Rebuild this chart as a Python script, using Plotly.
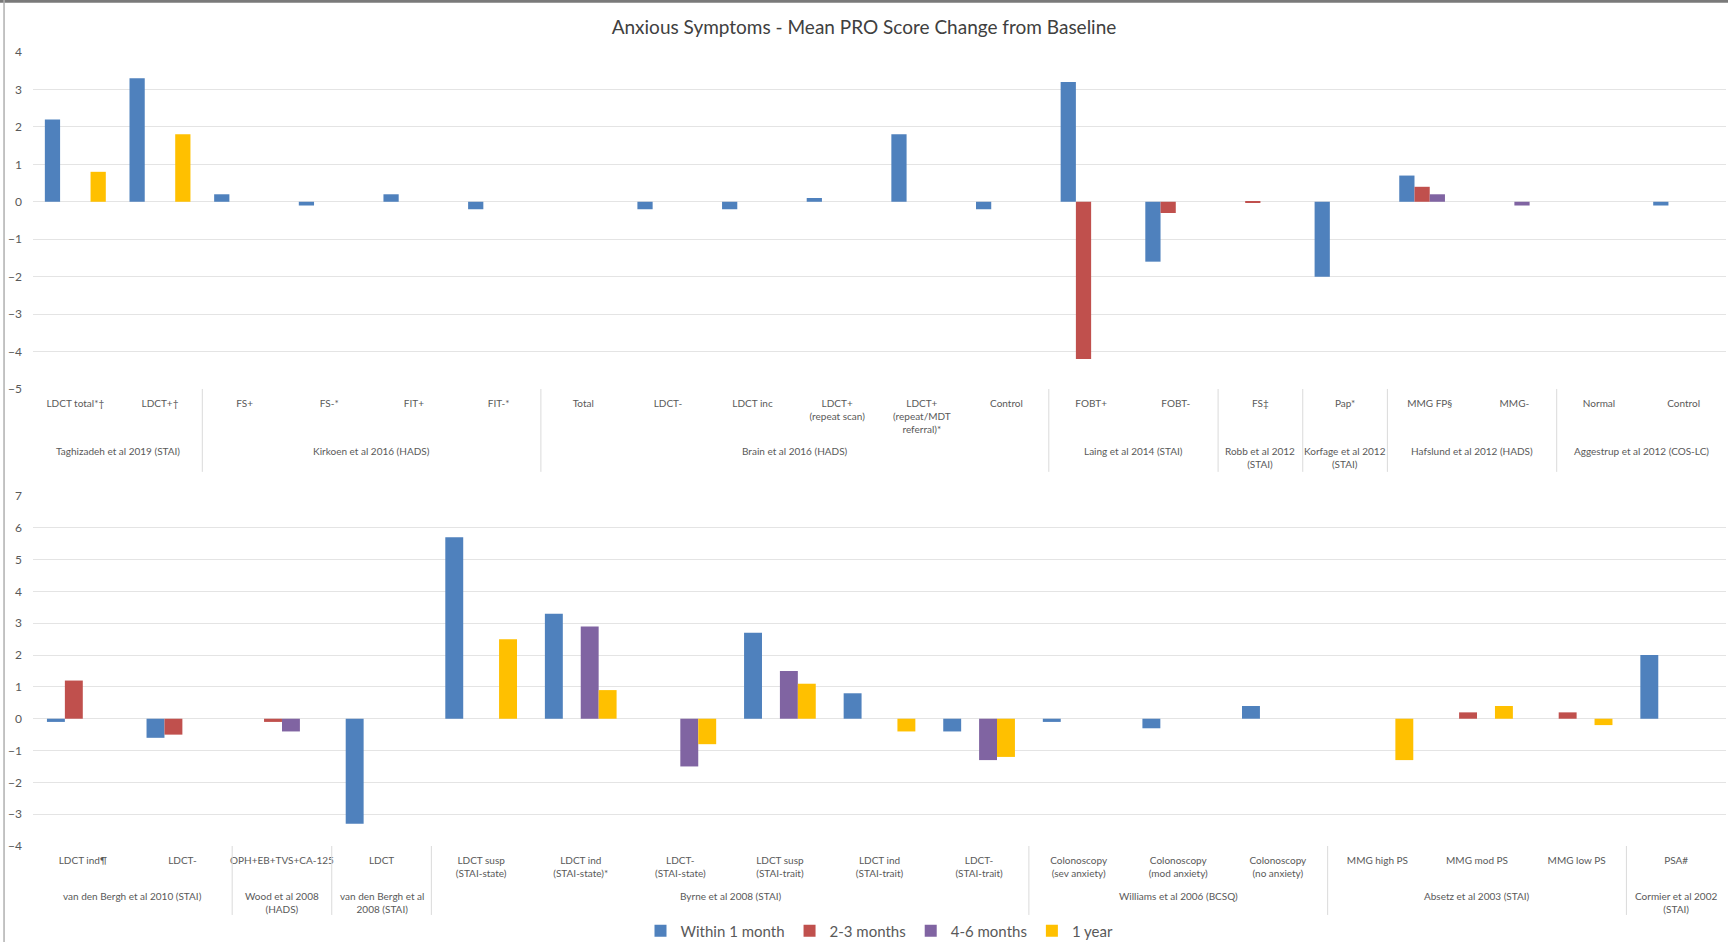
import plotly.graph_objects as go

# ---------------- data ----------------
series_names = ["Within 1 month", "2-3 months", "4-6 months", "1 year"]
series_colors = ["#4F81BD", "#C0504D", "#8064A2", "#FFC000"]

top_groups = (["Taghizadeh et al 2019 (STAI)"] * 2
              + ["Kirkoen et al 2016 (HADS)"] * 4
              + ["Brain et al 2016 (HADS)"] * 6
              + ["Laing et al 2014 (STAI)"] * 2
              + ["Robb et al 2012<br>(STAI)"]
              + ["Korfage et al 2012<br>(STAI)"]
              + ["Hafslund et al 2012 (HADS)"] * 2
              + ["Aggestrup et al 2012 (COS-LC)"] * 2)
top_cats = ["LDCT total*†", "LDCT+†", "FS+", "FS-*", "FIT+", "FIT-*",
            "Total", "LDCT-", "LDCT inc", "LDCT+<br>(repeat scan)",
            "LDCT+<br>(repeat/MDT<br>referral)*", "Control",
            "FOBT+", "FOBT-", "FS‡", "Pap*", "MMG FP§", "MMG-",
            "Normal", "Control"]
top_within1m = [2.2, 3.3, 0.2, -0.1, 0.2, -0.2, None, -0.2, -0.2, 0.1, 1.8, -0.2,
                3.2, -1.6, None, -2.0, 0.7, None, None, -0.1]
top_2to3m = [None, None, None, None, None, None, None, None, None, None, None, None,
             -4.2, -0.3, -0.03, None, 0.4, None, None, None]
top_4to6m = [None, None, None, None, None, None, None, None, None, None, None, None,
             None, None, None, None, 0.2, -0.1, None, None]
top_1year = [0.8, 1.8, None, None, None, None, None, None, None, None, None, None,
             None, None, None, None, None, None, None, None]

bot_groups = (["van den Bergh et al 2010 (STAI)"] * 2
              + ["Wood et al 2008<br>(HADS)"]
              + ["van den Bergh et al<br>2008 (STAI)"]
              + ["Byrne et al 2008 (STAI)"] * 6
              + ["Williams et al 2006 (BCSQ)"] * 3
              + ["Absetz et al 2003 (STAI)"] * 3
              + ["Cormier et al 2002<br>(STAI)"])
bot_cats = ["LDCT ind¶", "LDCT-", "OPH+EB+TVS+CA-125", "LDCT",
            "LDCT susp<br>(STAI-state)", "LDCT ind<br>(STAI-state)*", "LDCT-<br>(STAI-state)",
            "LDCT susp<br>(STAI-trait)", "LDCT ind<br>(STAI-trait)", "LDCT-<br>(STAI-trait)",
            "Colonoscopy<br>(sev anxiety)", "Colonoscopy<br>(mod anxiety)", "Colonoscopy<br>(no anxiety)",
            "MMG high PS", "MMG mod PS", "MMG low PS", "PSA#"]
bot_within1m = [-0.1, -0.6, None, -3.3, 5.7, 3.3, None, 2.7, 0.8, -0.4,
                -0.1, -0.3, 0.4, None, None, None, 2.0]
bot_2to3m = [1.2, -0.5, -0.1, None, None, None, None, None, None, None,
             None, None, None, None, 0.2, 0.2, None]
bot_4to6m = [None, None, -0.4, None, None, 2.9, -1.5, 1.5, None, -1.3,
             None, None, None, None, None, None, None]
bot_1year = [None, None, None, None, 2.5, 0.9, -0.8, 1.1, -0.4, -1.2,
             None, None, None, -1.3, 0.4, -0.2, None]

top_ticks = list(range(-5, 5))
bot_ticks = list(range(-4, 8))

# ---------------- helpers ----------------
FONT = "Lato, 'Open Sans', sans-serif"
GRID = "#e4e4e4"
TICKC = "#595959"
DIV = "#dadada"


def group_spans(groups):
    """Return (label, first_index, last_index) for consecutive runs."""
    spans = []
    start = 0
    for i in range(1, len(groups) + 1):
        if i == len(groups) or groups[i] != groups[start]:
            spans.append((groups[start], start, i - 1))
            start = i
    return spans


fig = go.Figure()

top_x = list(range(len(top_cats)))
bot_x = list(range(len(bot_cats)))
top_series = [top_within1m, top_2to3m, top_4to6m, top_1year]
bot_series = [bot_within1m, bot_2to3m, bot_4to6m, bot_1year]

for name, color, vals in zip(series_names, series_colors, top_series):
    fig.add_trace(go.Bar(x=top_x, y=vals, name=name,
                         marker=dict(color=color, line=dict(width=0)),
                         legendgroup=name, showlegend=True,
                         xaxis="x", yaxis="y"))
for name, color, vals in zip(series_names, series_colors, bot_series):
    fig.add_trace(go.Bar(x=bot_x, y=vals, name=name,
                         marker=dict(color=color, line=dict(width=0)),
                         legendgroup=name, showlegend=False,
                         xaxis="x2", yaxis="y2"))

xcommon = dict(type="linear", showgrid=False, zeroline=False, showline=False,
               ticks="", tickangle=0,
               tickfont=dict(family=FONT, size=10, color=TICKC), automargin=False)
ycommon = dict(showgrid=True, gridcolor=GRID, gridwidth=1, zeroline=True,
               zerolinecolor=GRID, zerolinewidth=1, showline=False, ticks="",
               dtick=1, tickfont=dict(family=FONT, size=12, color=TICKC),
               ticklabelstandoff=10, automargin=False)

fig.update_layout(
    template="none",
    width=1728, height=942,
    margin=dict(l=33, r=2, t=52, b=96, autoexpand=False),
    paper_bgcolor="white", plot_bgcolor="white",
    font=dict(family=FONT, color=TICKC),
    barmode="group", bargap=0.28, bargroupgap=0,
    title=dict(text="Anxious Symptoms - Mean PRO Score Change from Baseline",
               x=0.5, xanchor="center", y=0.971, yanchor="middle",
               font=dict(family=FONT, size=19, color="#404040")),
    xaxis=dict(anchor="y", domain=[0, 1], range=[-0.5, len(top_cats) - 0.5],
               tickvals=top_x, ticktext=top_cats, ticklabelstandoff=7, **xcommon),
    yaxis=dict(anchor="x", domain=[0.5756, 1], range=[-5, 4], tickvals=top_ticks, **ycommon),
    xaxis2=dict(anchor="y2", domain=[0, 1], range=[-0.5, len(bot_cats) - 0.5],
                tickvals=bot_x, ticktext=bot_cats, ticklabelstandoff=7, **xcommon),
    yaxis2=dict(anchor="x2", domain=[0, 0.4408], range=[-4, 7], tickvals=bot_ticks, **ycommon),
    legend=dict(orientation="h", x=0.5, xanchor="center", xref="paper",
                y=0.0117, yanchor="middle", yref="container",
                font=dict(family=FONT, size=15, color=TICKC), bgcolor="rgba(0,0,0,0)",
                traceorder="normal", itemwidth=30),
    showlegend=True,
)

# group labels and dividers (Excel-style two-level category axis)
for xref, yref, groups, label_shift, div_len in [
        ("x", "y domain", top_groups, -54, -0.246),
        ("x2", "y2 domain", bot_groups, -42, -0.197)]:
    spans = group_spans(groups)
    for k, (label, i0, i1) in enumerate(spans):
        fig.add_annotation(x=(i0 + i1) / 2, y=0, xref=xref, yref=yref,
                           text=label, showarrow=False, xanchor="center",
                           yanchor="top", yshift=label_shift, align="center",
                           font=dict(family=FONT, size=10, color=TICKC))
        if k > 0:
            fig.add_shape(type="line", xref=xref, yref=yref,
                          x0=i0 - 0.5, x1=i0 - 0.5, y0=0, y1=div_len,
                          line=dict(color=DIV, width=1))

# screenshot frame (top dark edge, left light edge)
fig.add_shape(type="line", xref="paper", yref="paper", x0=-0.03, x1=1.01,
              y0=1.0640, y1=1.0640, line=dict(color="#7a7a7a", width=3))
fig.add_shape(type="line", xref="paper", yref="paper", x0=-0.0171, x1=-0.0171,
              y0=-0.13, y1=1.07, line=dict(color="#b0b0b0", width=1.5))

fig.write_html("out.html", include_plotlyjs=True, config={"displayModeBar": False},
               post_script="document.body.style.margin='0';document.body.style.overflow='hidden';")
